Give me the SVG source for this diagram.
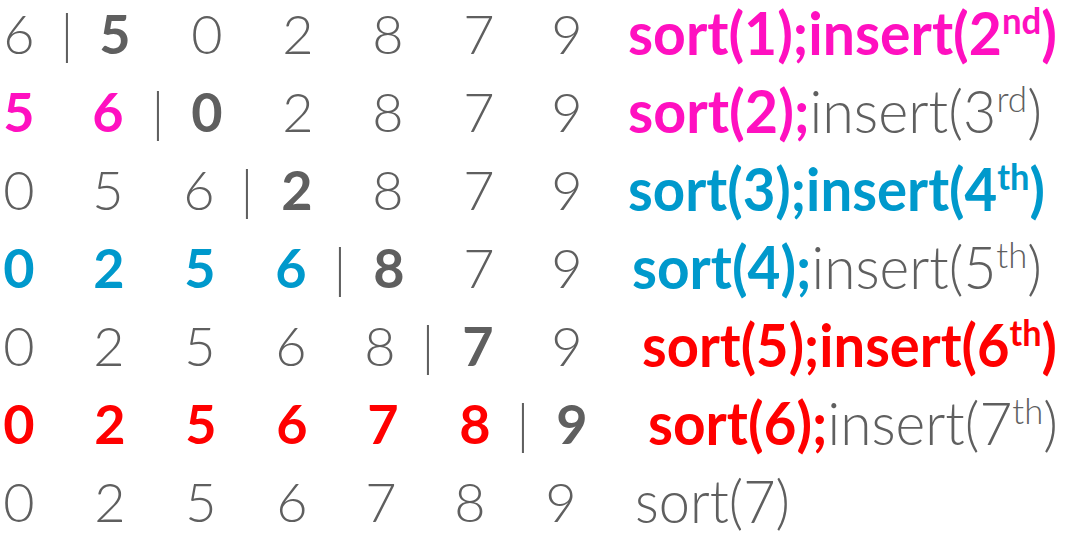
<svg xmlns="http://www.w3.org/2000/svg" width="1069" height="547" viewBox="0 0 1069 547">
<style>
text{font-family:Lato,"Open Sans","DejaVu Sans",sans-serif;font-size:54px}
.d{text-anchor:middle;fill:#5f5f5f;font-weight:300}
.b{font-weight:700}
.g{fill:#5f5f5f;font-weight:300}
.m{fill:#ff10c0}
.c{fill:#0099cc}
.r{fill:#ff0000}
.bar{text-anchor:middle;fill:#5f5f5f;font-weight:300}
.l{font-size:59px}
.sup{font-size:36px}
</style>
<rect width="1069" height="547" fill="#ffffff"/>
<g id="row1">
<text class="d" x="19" y="54">6</text><text class="bar" x="67" y="54">|</text><text class="d b" x="115" y="54">5</text><text class="d" x="207" y="54">0</text><text class="d" x="298" y="54">2</text><text class="d" x="388" y="54">8</text><text class="d" x="479" y="54">7</text><text class="d" x="567" y="54">9</text>
<text class="l m b" x="628" y="55" textLength="429" lengthAdjust="spacingAndGlyphs">sort(1);insert(2<tspan class="sup" dy="-21">nd</tspan><tspan dy="21">)</tspan></text>
</g>
<g id="row2">
<text class="d b m" x="19" y="132">5</text><text class="d b m" x="108" y="132">6</text><text class="bar" x="158" y="132">|</text><text class="d b" x="207" y="132">0</text><text class="d" x="298" y="132">2</text><text class="d" x="388" y="132">8</text><text class="d" x="479" y="132">7</text><text class="d" x="567" y="132">9</text>
<text class="l" x="628" y="133" textLength="414" lengthAdjust="spacingAndGlyphs"><tspan class="m b">sort(2);</tspan><tspan class="g">insert(3</tspan><tspan class="g sup" dy="-21">rd</tspan><tspan class="g" dy="21">)</tspan></text>
</g>
<g id="row3">
<text class="d" x="19" y="210">0</text><text class="d" x="108" y="210">5</text><text class="d" x="199" y="210">6</text><text class="bar" x="247" y="210">|</text><text class="d b" x="297" y="210">2</text><text class="d" x="388" y="210">8</text><text class="d" x="479" y="210">7</text><text class="d" x="567" y="210">9</text>
<text class="l c b" x="628" y="211" textLength="417" lengthAdjust="spacingAndGlyphs">sort(3);insert(4<tspan class="sup" dy="-21">th</tspan><tspan dy="21">)</tspan></text>
</g>
<g id="row4">
<text class="d b c" x="19" y="288">0</text><text class="d b c" x="109" y="288">2</text><text class="d b c" x="200" y="288">5</text><text class="d b c" x="291" y="288">6</text><text class="bar" x="340" y="288">|</text><text class="d b" x="389" y="288">8</text><text class="d" x="479" y="288">7</text><text class="d" x="567" y="288">9</text>
<text class="l" x="632" y="289" textLength="410" lengthAdjust="spacingAndGlyphs"><tspan class="c b">sort(4);</tspan><tspan class="g">insert(5</tspan><tspan class="g sup" dy="-21">th</tspan><tspan class="g" dy="21">)</tspan></text>
</g>
<g id="row5">
<text class="d" x="19" y="366">0</text><text class="d" x="109" y="366">2</text><text class="d" x="200" y="366">5</text><text class="d" x="291" y="366">6</text><text class="d" x="380" y="366">8</text><text class="bar" x="428" y="366">|</text><text class="d b" x="478" y="366">7</text><text class="d" x="567" y="366">9</text>
<text class="l r b" x="642" y="367" textLength="415" lengthAdjust="spacingAndGlyphs">sort(5);insert(6<tspan class="sup" dy="-21">th</tspan><tspan dy="21">)</tspan></text>
</g>
<g id="row6">
<text class="d b r" x="19" y="444">0</text><text class="d b r" x="110" y="444">2</text><text class="d b r" x="201" y="444">5</text><text class="d b r" x="292" y="444">6</text><text class="d b r" x="383" y="444">7</text><text class="d b r" x="475" y="444">8</text><text class="bar" x="523" y="444">|</text><text class="d b" x="572" y="444">9</text>
<text class="l" x="648" y="445" textLength="410" lengthAdjust="spacingAndGlyphs"><tspan class="r b">sort(6);</tspan><tspan class="g">insert(7</tspan><tspan class="g sup" dy="-21">th</tspan><tspan class="g" dy="21">)</tspan></text>
</g>
<g id="row7">
<text class="d" x="19" y="522">0</text><text class="d" x="110" y="522">2</text><text class="d" x="201" y="522">5</text><text class="d" x="292" y="522">6</text><text class="d" x="381" y="522">7</text><text class="d" x="470" y="522">8</text><text class="d" x="561" y="522">9</text>
<text class="l g" x="635" y="523" textLength="155" lengthAdjust="spacingAndGlyphs">sort(7)</text>
</g>
</svg>
